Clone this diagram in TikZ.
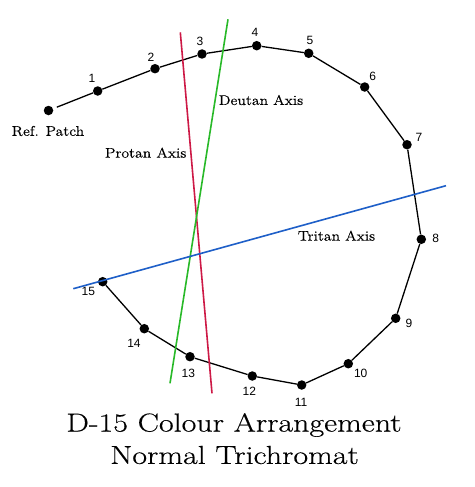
\documentclass[tikz,border=0pt]{standalone}
\usepackage{fontspec}
\newfontfamily\numfont{Liberation Sans}
\newfontfamily\labelfont[FakeStretch=1.12,FakeBold=0.3]{Latin Modern Roman}
\newfontfamily\titlefont[FakeStretch=1.23,FakeBold=0.4]{Latin Modern Roman}
\definecolor{protan}{RGB}{205,25,70}
\definecolor{deutan}{RGB}{40,185,40}
\definecolor{tritan}{RGB}{30,95,200}
\begin{document}
\begin{tikzpicture}[x=1pt,y=-1pt,
  capdot/.style={circle,fill=black,inner sep=0pt,minimum size=9.5pt},
  num/.style={font=\numfont\fontsize{12}{13}\selectfont,inner sep=0pt},
  axlabel/.style={font=\labelfont\fontsize{14}{16}\selectfont,inner sep=0pt},
  titletext/.style={font=\titlefont\fontsize{26}{28}\selectfont,inner sep=0pt},
  link/.style={line width=1.3pt,black},
  axisline/.style={line width=1.6pt}]
\useasboundingbox[fill=white] (0,0) rectangle (474,487);
% caps
\node[capdot] (p0) at (48.5,110.5) {};
\node[capdot] (p1) at (97.7,91) {};
\node[capdot] (p2) at (155,68.7) {};
\node[capdot] (p3) at (202,54) {};
\node[capdot] (p4) at (256.7,45.7) {};
\node[capdot] (p5) at (308.7,53.3) {};
\node[capdot] (p6) at (364.7,87) {};
\node[capdot] (p7) at (407,144.7) {};
\node[capdot] (p8) at (421.3,239.3) {};
\node[capdot] (p9) at (395.7,318.3) {};
\node[capdot] (p10) at (348.3,363.7) {};
\node[capdot] (p11) at (301.7,385) {};
\node[capdot] (p12) at (252.3,376) {};
\node[capdot] (p13) at (190,356.7) {};
\node[capdot] (p14) at (144.3,328.7) {};
\node[capdot] (p15) at (102.7,281.7) {};
% links
\draw[link,shorten <=4pt] (p0) -- (p1);
\draw[link] (p1) -- (p2) -- (p3) -- (p4) -- (p5) -- (p6) -- (p7) -- (p8) -- (p9) -- (p10) -- (p11) -- (p12) -- (p13) -- (p14) -- (p15);
% number labels
\node[num] (n1) at (92,78) {1};
\node[num] (n2) at (151,57) {2};
\node[num] (n3) at (200,41) {3};
\node[num] (n4) at (255,32) {4};
\node[num] (n5) at (310,40) {5};
\node[num] (n6) at (372.7,76.7) {6};
\node[num] (n7) at (419,137.7) {7};
\node[num] (n8) at (435.7,238.3) {8};
\node[num] (n9) at (409,323.3) {9};
\node[num] (n10) at (360.7,373.3) {10};
\node[num] (n11) at (301,402) {11};
\node[num] (n12) at (249.3,391.7) {12};
\node[num] (n13) at (188.3,373.7) {13};
\node[num] (n14) at (134,343.3) {14};
\node[num] (n15) at (88.3,291.3) {15};
% axes
\coordinate (prA) at (180.3,32.3);
\coordinate (prB) at (212,393.3);
\coordinate (deA) at (228,19.3);
\coordinate (deB) at (170,383.3);
\coordinate (trA) at (73.3,288.7);
\coordinate (trB) at (446,185.7);
\draw[axisline,protan] (prA) -- (prB);
\draw[axisline,deutan] (deA) -- (deB);
\draw[axisline,tritan] (trA) -- (trB);
% labels
\node[axlabel] (ref) at (48,131) {Ref. Patch};
\node[axlabel] (prl) at (145.7,152.7) {Protan Axis};
\node[axlabel] (del) at (261,100) {Deutan Axis};
\node[axlabel] (trl) at (336.5,235.7) {Tritan Axis};
\node[titletext] (t1) at (234,425) {D-15 Colour Arrangement};
\node[titletext] (t2) at (234.5,455) {Normal Trichromat};
\end{tikzpicture}
\end{document}
